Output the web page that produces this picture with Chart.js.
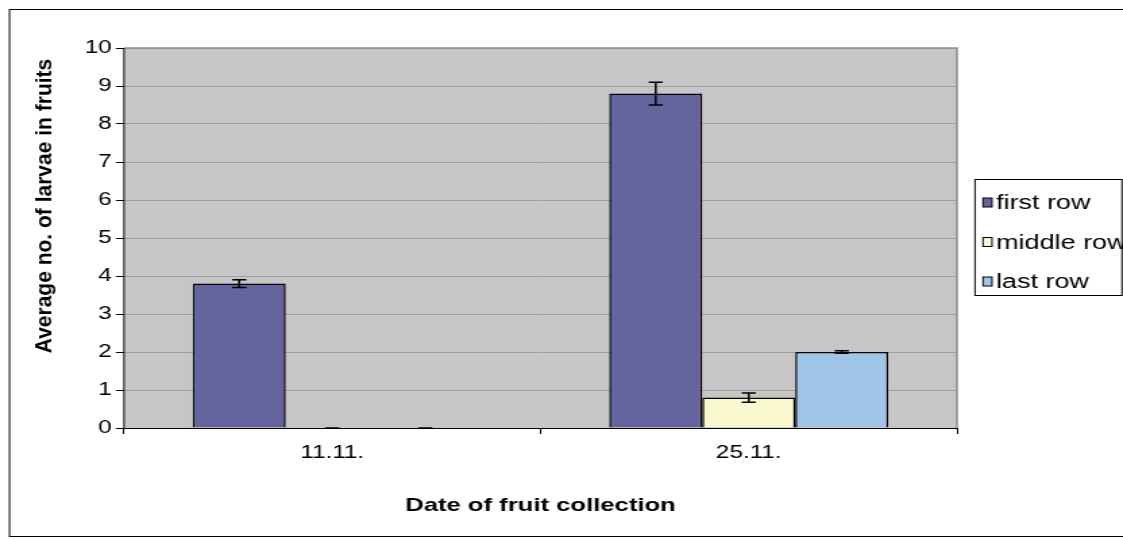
<!DOCTYPE html>
<html><head><meta charset="utf-8">
<script src="https://cdn.jsdelivr.net/npm/chart.js@4.4.0/dist/chart.umd.min.js"></script>
<style>
html,body{margin:0;padding:0;background:#fff;overflow:hidden}
#c{display:block;width:1123px!important;height:540px!important}
</style></head><body>
<canvas id="c" width="832" height="540"></canvas>
<script>
// ---- data ----
const categories = ['11.11.', '25.11.'];
const seriesNames = ['first row', 'middle row', 'last row'];
const firstRow = [3.8, 8.8];
const middleRow = [0, 0.8];
const lastRow = [0, 2.0];
const firstRowErr = [0.1, 0.3];
const middleRowErr = [0, 0.12];
const lastRowErr = [0, 0.03];
const yTickValues = [0, 1, 2, 3, 4, 5, 6, 7, 8, 9, 10];
const xTitle = 'Date of fruit collection';
const yTitle = 'Average no. of larvae in fruits';

const FONT = '"Liberation Sans", Arial, sans-serif';
const SX = 1123 / 832; // horizontal stretch of the picture

const bgPlugin = {
  id: 'bg',
  beforeDraw(chart) {
    const {ctx, chartArea: a} = chart;
    ctx.save();
    ctx.fillStyle = '#fff';
    ctx.fillRect(0, 0, chart.width, chart.height);
    ctx.strokeStyle = '#000';
    ctx.lineWidth = 1;
    ctx.strokeRect(9.5 / SX, 9.5, chart.width, 527);
    ctx.fillStyle = '#c6c6c6';
    ctx.fillRect(a.left, a.top, a.right - a.left, a.bottom - a.top);
    ctx.restore();
  },
  beforeDatasetsDraw(chart) {
    const {ctx, chartArea: a} = chart;
    ctx.save();
    ctx.strokeStyle = '#8e8e8e';
    ctx.lineWidth = 1.5;
    ctx.beginPath();
    ctx.moveTo(a.left, a.top);
    ctx.lineTo(a.right, a.top);
    ctx.lineTo(a.right, a.bottom);
    ctx.stroke();
    ctx.strokeStyle = '#000';
    ctx.lineWidth = 1;
    ctx.beginPath();
    ctx.moveTo(a.left, a.top);
    ctx.lineTo(a.left, a.bottom + 0.5);
    ctx.lineTo(a.right, a.bottom + 0.5);
    ctx.stroke();
    ctx.restore();
  }
};

const errPlugin = {
  id: 'errbars',
  afterDatasetsDraw(chart) {
    const {ctx} = chart;
    const y = chart.scales.y;
    ctx.save();
    ctx.strokeStyle = '#000';
    ctx.lineWidth = 1.5;
    chart.data.datasets.forEach((ds, i) => {
      const meta = chart.getDatasetMeta(i);
      meta.data.forEach((el, j) => {
        const v = ds.data[j], e = ds.errors[j];
        const yt = y.getPixelForValue(v + e), yb = y.getPixelForValue(Math.max(0, v - e));
        const hw = 7 / SX;
        ctx.beginPath();
        ctx.moveTo(el.x, yt); ctx.lineTo(el.x, yb);
        ctx.moveTo(el.x - hw, yt); ctx.lineTo(el.x + hw, yt);
        ctx.moveTo(el.x - hw, yb); ctx.lineTo(el.x + hw, yb);
        ctx.stroke();
      });
    });
    ctx.restore();
  }
};

const legendPlugin = {
  id: 'customLegend',
  afterDraw(chart) {
    const {ctx} = chart;
    ctx.save();
    const left = 975 / SX, right = 1122 / SX;
    ctx.strokeStyle = '#000';
    ctx.lineWidth = 1;
    ctx.fillStyle = '#fff';
    ctx.fillRect(left, 179.5, right - left, 116);
    ctx.strokeRect(left, 179.5, right - left, 116);
    ctx.font = '20px ' + FONT;
    ctx.textAlign = 'left';
    ctx.textBaseline = 'alphabetic';
    chart.data.datasets.forEach((ds, i) => {
      const cy = 202.5 + i * 39.5;
      ctx.fillStyle = ds.backgroundColor;
      ctx.fillRect(983 / SX, cy - 4.5, 9 / SX, 9);
      ctx.strokeRect(983 / SX, cy - 4.5, 9 / SX, 9);
      ctx.fillStyle = '#000';
      ctx.fillText(ds.label, 996 / SX, cy + 6.5);
    });
    // y axis title
    const t = chart.options.scales.y.title;
    ctx.translate(45 / SX, 206);
    ctx.rotate(-Math.PI / 2);
    ctx.scale(1, 0.78);
    ctx.font = 'bold 21px ' + FONT;
    ctx.textAlign = 'center';
    ctx.textBaseline = 'middle';
    ctx.fillText(t.text, 0, 0);
    ctx.restore();
  }
};

const mkDs = (label, data, errors, color) => ({
  label, data, errors,
  backgroundColor: color,
  borderColor: '#000',
  borderWidth: 1.5,
  categoryPercentage: 0.67,
  barPercentage: 1.0
});

new Chart(document.getElementById('c'), {
  type: 'bar',
  data: {
    labels: categories,
    datasets: [
      mkDs(seriesNames[0], firstRow, firstRowErr, '#64649e'),
      mkDs(seriesNames[1], middleRow, middleRowErr, '#faf8cf'),
      mkDs(seriesNames[2], lastRow, lastRowErr, '#9fc5e8')
    ]
  },
  options: {
    responsive: false,
    animation: false,
    devicePixelRatio: 1,
    layout: {padding: {left: 0, top: 48, right: 832 - 957 / SX, bottom: 0}},
    plugins: {legend: {display: false}, tooltip: {enabled: false}, title: {display: false}},
    scales: {
      x: {
        afterFit(s) { s.height = 112; },
        grid: {offset: true, drawOnChartArea: false, drawTicks: true, tickLength: 6, tickColor: '#000', color: '#000'},
        border: {display: false},
        ticks: {color: '#000', font: {family: FONT, size: 18}, padding: 8, maxRotation: 0},
        title: {display: true, text: xTitle, color: '#000', font: {family: FONT, size: 19, weight: 'bold'}, padding: {bottom: 23, top: 0}}
      },
      y: {
        min: 0, max: 10,
        afterFit(s) { s.width = 124 / SX; },
        afterBuildTicks(s) { s.ticks = yTickValues.map(v => ({value: v})); },
        grid: {color: '#a0a0a0', lineWidth: 1, tickLength: 6, tickColor: '#000', drawTicks: true},
        border: {display: false},
        ticks: {color: '#000', font: {family: FONT, size: 18}, padding: 3},
        title: {display: false, text: yTitle}
      }
    }
  },
  plugins: [bgPlugin, errPlugin, legendPlugin]
});
</script>
</body></html>
